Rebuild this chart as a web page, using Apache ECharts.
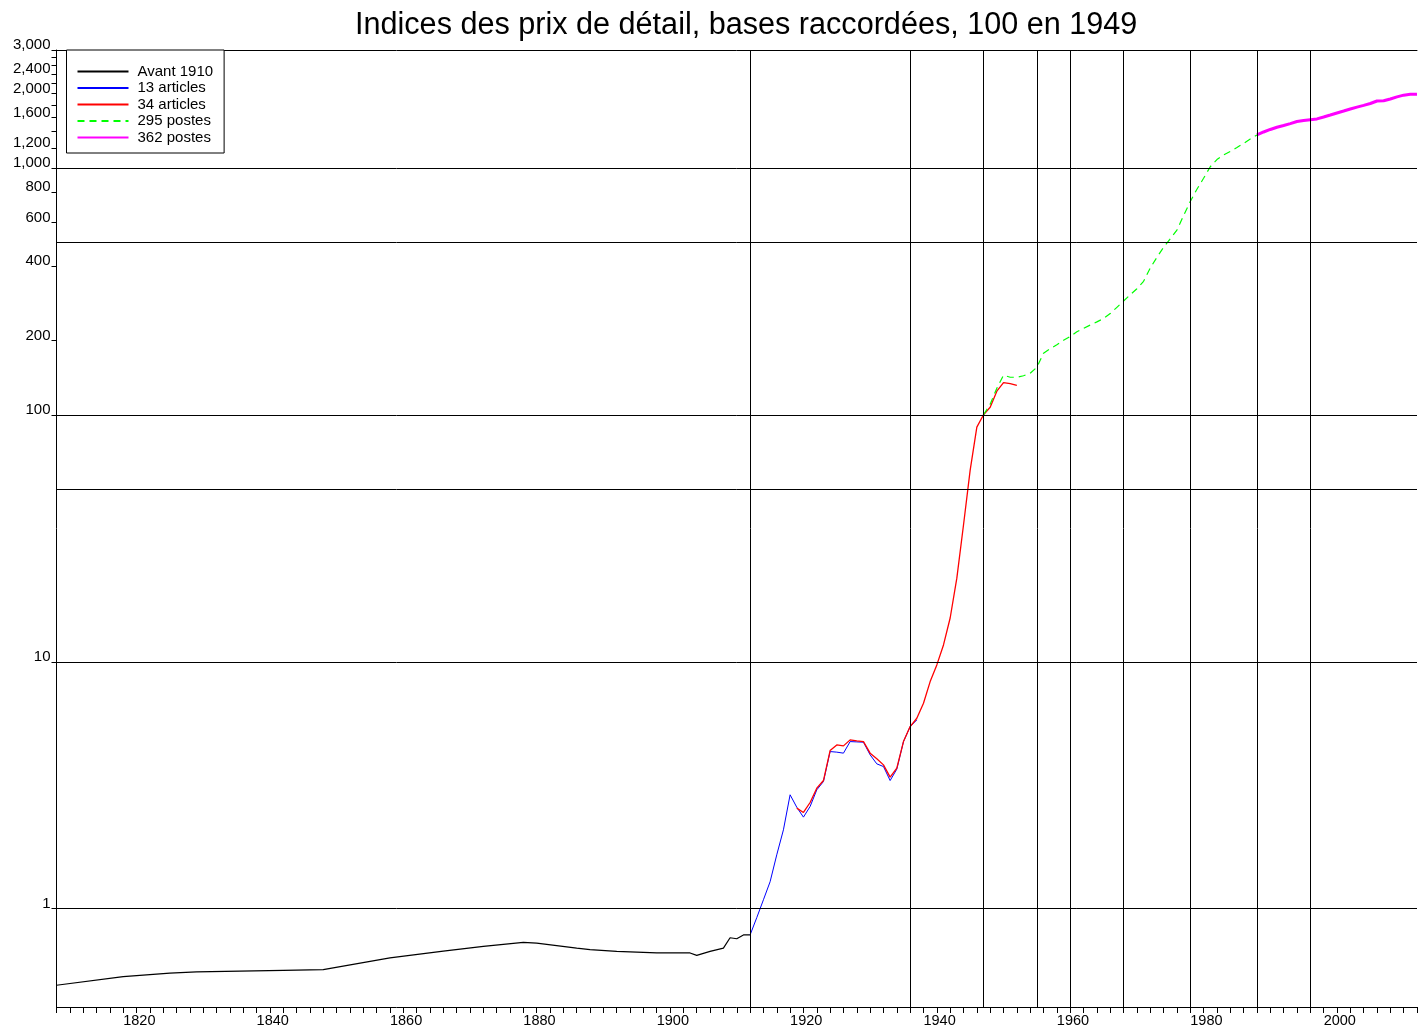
<!DOCTYPE html>
<html>
<head>
<meta charset="utf-8">
<title>Indices des prix de détail</title>
<script src="https://cdn.jsdelivr.net/npm/echarts@6.0.0/dist/echarts.min.js"></script>
<style>
html, body { margin: 0; padding: 0; background: #fff; }
#chart { width: 1420px; height: 1028px; }
</style>
</head>
<body>
<div id="chart"></div>
<script>
// valeurs (100 en 1949)
var avantYears = [1810, 1820, 1827, 1831, 1844, 1850, 1860, 1868, 1874, 1880, 1882, 1888, 1890, 1894, 1900, 1905, 1906, 1908, 1910, 1911, 1912, 1913, 1914];
var avantValues = [0.490, 0.531, 0.549, 0.555, 0.563, 0.567, 0.632, 0.674, 0.704, 0.731, 0.726, 0.693, 0.683, 0.672, 0.662, 0.662, 0.647, 0.672, 0.693, 0.763, 0.756, 0.783, 0.783];

// 13 articles, annuel a partir de 1914
var art13Start = 1914;
var art13Values = [0.783, 0.920, 1.087, 1.286, 1.653, 2.087, 2.893, 2.576, 2.349, 2.594, 3.029, 3.273, 4.329, 4.305, 4.265, 4.751, 4.737, 4.724, 4.198, 3.860, 3.764, 3.304, 3.674, 4.751, 5.464, 5.815];

// 34 articles, annuel a partir de 1921
var art34Start = 1921;
var art34Values = [2.555, 2.453, 2.692, 3.077, 3.304, 4.369, 4.607, 4.564, 4.827, 4.782, 4.751, 4.265, 4.045, 3.824, 3.410, 3.709, 4.751, 5.464, 5.907, 6.794, 8.31, 9.71, 11.70, 15.04, 21.8, 35.8, 59.7, 89.1, 100, 107.3, 124.6, 135.1, 133.6, 131.7];

// 295 postes, annuel a partir de 1949
var p295Start = 1949;
var p295Values = [100, 110.4, 128.2, 144.6, 141.9, 141.9, 143.9, 147.3, 155.8, 177.5, 185.1, 192.1, 200.4, 207.6, 216.9, 224, 230.9, 237.8, 245.4, 256.9, 272.4, 288.9, 306, 324, 347, 392.6, 434, 476.9, 516, 560, 640.7, 730, 819, 907, 1010, 1080, 1128, 1165, 1209, 1255, 1309, 1359];

// 362 postes, annuel a partir de 1990
var p362Start = 1990;
var p362Values = [1359, 1397, 1430, 1460, 1484, 1510, 1540, 1555, 1567, 1578, 1607, 1637, 1668, 1699, 1731, 1762, 1791, 1822, 1865, 1868, 1900, 1938, 1969, 1984, 1988];

// lignes de repere
var vLineYears = [1914, 1938, 1949, 1957, 1962, 1970, 1980, 1990, 1998];
var hLineValues = [1, 10, 50, 100, 500, 1000];

// graduations de l'axe vertical
var yTickValues = [1, 10, 100, 200, 400, 600, 800, 1000, 1200, 1400, 1600, 1800, 2000, 2200, 2400, 2600, 2800, 3000];
var yLabelValues = [1, 10, 100, 200, 400, 600, 800, 1000, 1200, 1600, 2000, 2400, 3000];

var FONT = '"Liberation Sans", Arial, sans-serif';

function yearly(start, vals) {
    return vals.map(function (v, i) { return [start + i, v]; });
}

var chart = echarts.init(document.getElementById('chart'));

chart.setOption({
    animation: false,
    backgroundColor: '#fff',
    title: {
        text: 'Indices des prix de détail, bases raccordées, 100 en 1949',
        left: 350,
        top: 5,
        textStyle: { fontSize: 30.6, fontWeight: 'normal', color: '#000', fontFamily: FONT }
    },
    legend: {
        orient: 'vertical',
        left: 66.5,
        top: 50,
        padding: [14, 11, 8, 10],
        backgroundColor: '#fff',
        borderColor: '#000',
        borderWidth: 1,
        borderRadius: 0,
        itemWidth: 51,
        itemHeight: 14,
        itemGap: 1.5,
        itemStyle: { opacity: 0, borderWidth: 0 },
        data: ['Avant 1910', '13 articles', '34 articles', '295 postes', '362 postes'],
        textStyle: { fontSize: 15, color: '#000', fontFamily: FONT, lineHeight: 14, padding: [0, 0, 0, 4] }
    },
    grid: { left: 56.5, right: 2, top: 50, bottom: 20 },
    xAxis: [{
        type: 'value',
        min: 1810,
        max: 2014,
        interval: 2,
        axisLine: { onZero: false, lineStyle: { color: '#000', width: 1 } },
        axisTick: { length: 6, lineStyle: { color: '#000' } },
        axisLabel: {
            formatter: function (v) { return v % 20 === 0 ? String(v) : ''; },
            align: 'left',
            verticalAlign: 'top',
            margin: 6,
            fontSize: 14.5,
            color: '#000',
            fontFamily: FONT
        },
        splitLine: { show: false }
    }, {
        // bord superieur du cadre
        type: 'value',
        position: 'top',
        min: 1810,
        max: 2014,
        axisLine: { show: true, onZero: false, lineStyle: { color: '#000', width: 1 } },
        axisTick: { show: false },
        axisLabel: { show: false },
        splitLine: { show: false }
    }],
    yAxis: {
        type: 'log',
        logBase: 10,
        min: 0.4,
        max: 3000,
        axisLine: { show: true, onZero: false, lineStyle: { color: '#000', width: 1 } },
        axisTick: { show: true, length: 5, customValues: yTickValues, lineStyle: { color: '#000' } },
        axisLabel: {
            customValues: yLabelValues,
            formatter: function (v) { return Math.round(v).toLocaleString('en-US'); },
            color: '#000',
            fontSize: 15,
            fontFamily: FONT,
            margin: 6,
            verticalAlign: 'bottom',
            lineHeight: 10
        },
        splitLine: { show: false },
        minorTick: { show: false }
    },
    series: [{
        name: 'grille',
        type: 'line',
        data: [],
        z: 1,
        silent: true,
        markLine: {
            silent: true,
            animation: false,
            symbol: ['none', 'none'],
            label: { show: false },
            emphasis: { disabled: true },
            lineStyle: { color: '#000', width: 1, type: 'solid' },
            data: vLineYears.map(function (y) { return { xAxis: y }; })
                .concat(hLineValues.map(function (v) { return { yAxis: v }; }))
        }
    }, {
        name: 'Avant 1910',
        type: 'line',
        symbol: 'none',
        data: avantYears.map(function (y, i) { return [y, avantValues[i]]; }),
        lineStyle: { color: '#000', width: 1.2 },
        itemStyle: { color: '#000' }
    }, {
        name: '13 articles',
        type: 'line',
        symbol: 'none',
        data: yearly(art13Start, art13Values),
        lineStyle: { color: '#0000ff', width: 1 },
        itemStyle: { color: '#0000ff' }
    }, {
        name: '34 articles',
        type: 'line',
        symbol: 'none',
        data: yearly(art34Start, art34Values),
        lineStyle: { color: '#ff0000', width: 1.3 },
        itemStyle: { color: '#ff0000' }
    }, {
        name: '295 postes',
        type: 'line',
        symbol: 'none',
        data: yearly(p295Start, p295Values),
        lineStyle: { color: '#00ff00', width: 1.2, type: [7, 5] },
        itemStyle: { color: '#00ff00' }
    }, {
        name: '362 postes',
        type: 'line',
        symbol: 'none',
        data: yearly(p362Start, p362Values),
        lineStyle: { color: '#ff00ff', width: 3 },
        itemStyle: { color: '#ff00ff' }
    }]
});
</script>
</body>
</html>
